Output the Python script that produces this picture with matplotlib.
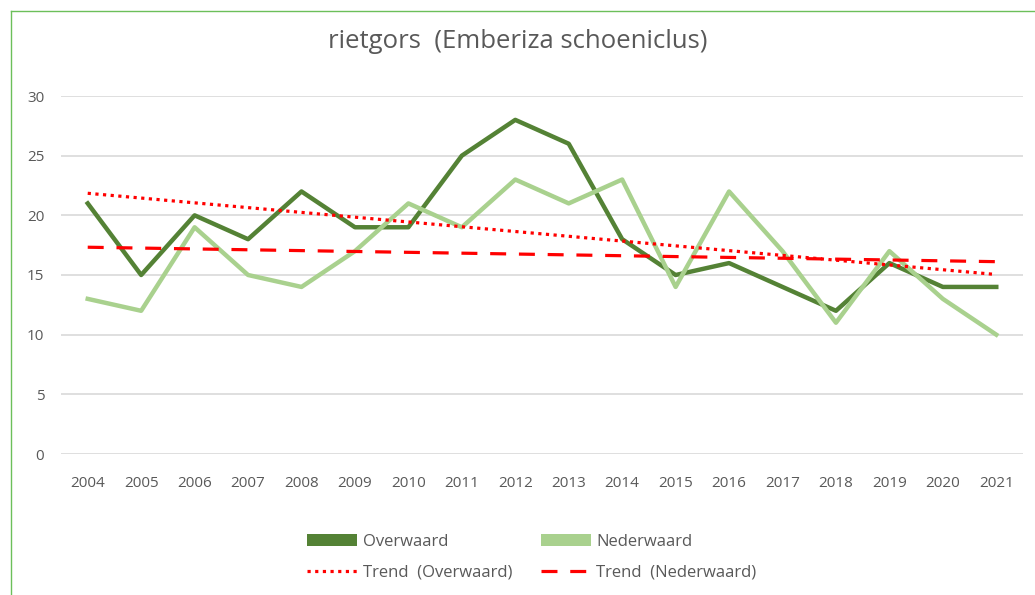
import numpy as np
import matplotlib.pyplot as plt
from matplotlib.patches import Patch
from matplotlib.lines import Line2D

plt.rcParams['font.family'] = ['Open Sans', 'DejaVu Sans']

years = [2004, 2005, 2006, 2007, 2008, 2009, 2010, 2011, 2012,
         2013, 2014, 2015, 2016, 2017, 2018, 2019, 2020, 2021]
overwaard = [21, 15, 20, 18, 22, 19, 19, 25, 28, 26, 18, 15, 16, 14, 12, 16, 14, 14]
nederwaard = [13, 12, 19, 15, 14, 17, 21, 19, 23, 21, 23, 14, 22, 17, 11, 17, 13, 10]

dark = '#548235'
light = '#a9d18e'
grey = '#595959'

x = np.arange(len(years))

fig = plt.figure(figsize=(10.35, 5.95), dpi=100)
ax = fig.add_axes([61 / 1035, 1 - 454 / 595, (1023 - 61) / 1035, (454 - 96) / 595])

# linear trendlines (least squares, like the spreadsheet)
p_o = np.polyfit(x, overwaard, 1)
p_n = np.polyfit(x, nederwaard, 1)

ax.plot(x, overwaard, color=dark, lw=3.2, zorder=3)
ax.plot(x, nederwaard, color=light, lw=3.2, zorder=3)
ax.plot(x, np.polyval(p_o, x), color='red', lw=2.3, ls=(0, (1, 1.4)), zorder=4)
ax.plot(x, np.polyval(p_n, x), color='red', lw=2.3, ls=(0, (5, 4)), zorder=4)

ax.set_xlim(-0.5, len(years) - 0.5)
ax.set_ylim(0, 30)
ax.set_yticks(range(0, 31, 5))
ax.set_xticks(x)
ax.set_xticklabels([str(y) for y in years])
ax.grid(axis='y', color='#d9d9d9', lw=1.2)
ax.set_axisbelow(True)
for s in ax.spines.values():
    s.set_visible(False)
ax.tick_params(length=0, labelsize=11, labelcolor=grey)
ax.tick_params(axis='x', pad=16)
ax.tick_params(axis='y', pad=12)

fig.text(0.5, 1 - 42 / 595, 'rietgors  (Emberiza schoeniclus)', ha='center', va='center',
         fontsize=18.5, color=grey)

handles = [
    Patch(facecolor=dark, edgecolor='none'),
    Line2D([], [], color='red', lw=2.3, ls=(0, (1, 1.4))),
    Patch(facecolor=light, edgecolor='none'),
    Line2D([], [], color='red', lw=2.3, ls=(0, (5, 4))),
]
labels = ['Overwaard', 'Trend  (Overwaard)', 'Nederwaard', 'Trend  (Nederwaard)']
leg = fig.legend(handles, labels, ncol=2, loc='center left',
                 bbox_to_anchor=(292 / 1035, 1 - 557 / 595), frameon=False,
                 fontsize=12, handlelength=3.0, handleheight=0.7,
                 columnspacing=1.7, handletextpad=0.35, labelspacing=0.9)
for t in leg.get_texts():
    t.set_color(grey)

# chart frame
fig.add_artist(Line2D([11 / 1035, 1], [1 - 11 / 595, 1 - 11 / 595], color='#6cbf5a', lw=1))
fig.add_artist(Line2D([11 / 1035, 11 / 1035], [0, 1 - 11 / 595], color='#6cbf5a', lw=1))

fig.savefig('out.png', dpi=100)
